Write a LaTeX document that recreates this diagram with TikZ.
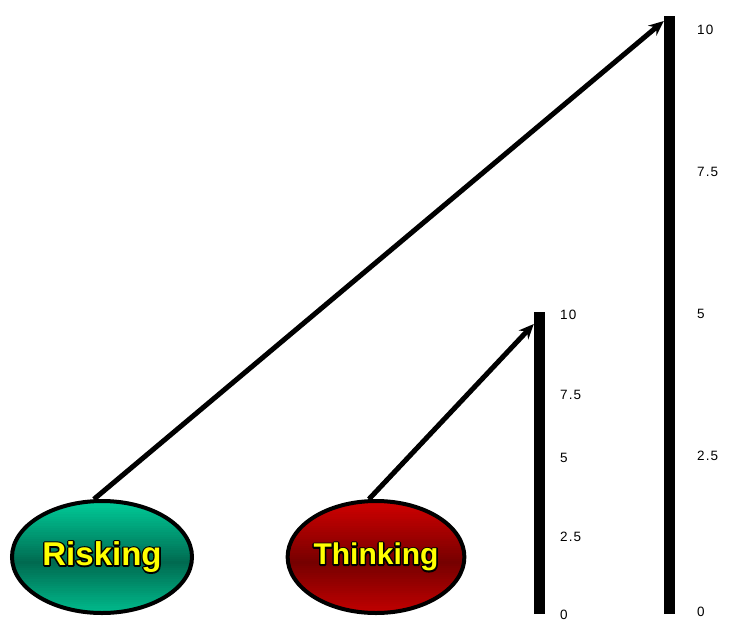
\documentclass[tikz,border=0pt]{standalone}
\usepackage{fontspec}
\setmainfont{Liberation Sans}
\usepackage{tikz}
\usetikzlibrary{arrows.meta,positioning,shapes.geometric,calc}
\usepackage{xcolor}

\definecolor{tealtop}{HTML}{00CC99}
\definecolor{tealmid}{HTML}{006A50}
\definecolor{redtop}{HTML}{D00000}
\definecolor{redmid}{HTML}{760000}
\definecolor{lbl}{HTML}{FFFF00}

% yellow letters with a black rim
\newcommand\outlined[1]{\rlap{\special{pdf:literal direct 0 0 0 RG 1 j 3 w 2 Tr}#1\special{pdf:literal direct 0 Tr}}\textcolor{lbl}{#1}}

\begin{document}
\begin{tikzpicture}[
   x=1pt,y=-1pt,
   blob/.style={ellipse,draw=black,line width=4pt,inner sep=0pt},
   band/.style 2 args={path picture={
     \foreach \i in {0,...,49}{
       \pgfmathsetmacro\mix{100*abs(\i-27)/27}
       \fill[#1!\mix!#2]
         ($(path picture bounding box.north west)!{\i/50}!(path picture bounding box.south west)$)
         rectangle
         ($(path picture bounding box.north east)!{(\i+1.4)/50}!(path picture bounding box.south east)$);
     }}},
   arr/.style={-{Stealth[length=15pt,width=13pt,inset=5pt]},line width=5pt},
   bar/.style={rectangle,fill=black,inner sep=0pt,minimum width=11pt,anchor=north},
   tick/.style={anchor=west,inner sep=0pt,
                font=\fontsize{13.5}{13.5}\selectfont\addfontfeature{LetterSpace=8}}
 ]
  \useasboundingbox (0,0) rectangle (736,624);
  \node[blob,minimum width=180pt,minimum height=112pt,band={tealtop}{tealmid},
        font=\fontsize{33}{33}\bfseries] (risk) at (102,557) {\outlined{Risking}};
  \node[blob,minimum width=172pt,minimum height=112pt,band={redtop}{redmid},
        font=\fontsize{30}{30}\bfseries] (think) at (376,557) {\outlined{Thinking}};
  \node[bar,minimum height=302pt] (small) at (539.5,312) {};
  \node[bar,minimum height=598pt] (large) at (669.5,16) {};
  \foreach \v/\y in {10/315,7.5/395,5/458,2.5/537,0/615}
    \node[tick] at (560,\y) {\v};
  \foreach \v/\y in {10/30,7.5/172,5/314,2.5/456,0/612}
    \node[tick] at (697,\y) {\v};
  \draw[arr] (risk.98) -- ([yshift=-5pt]large.north west);
  \draw[arr] (think.97) -- ([yshift=-12pt]small.north west);
 \end{tikzpicture}
\end{document}
